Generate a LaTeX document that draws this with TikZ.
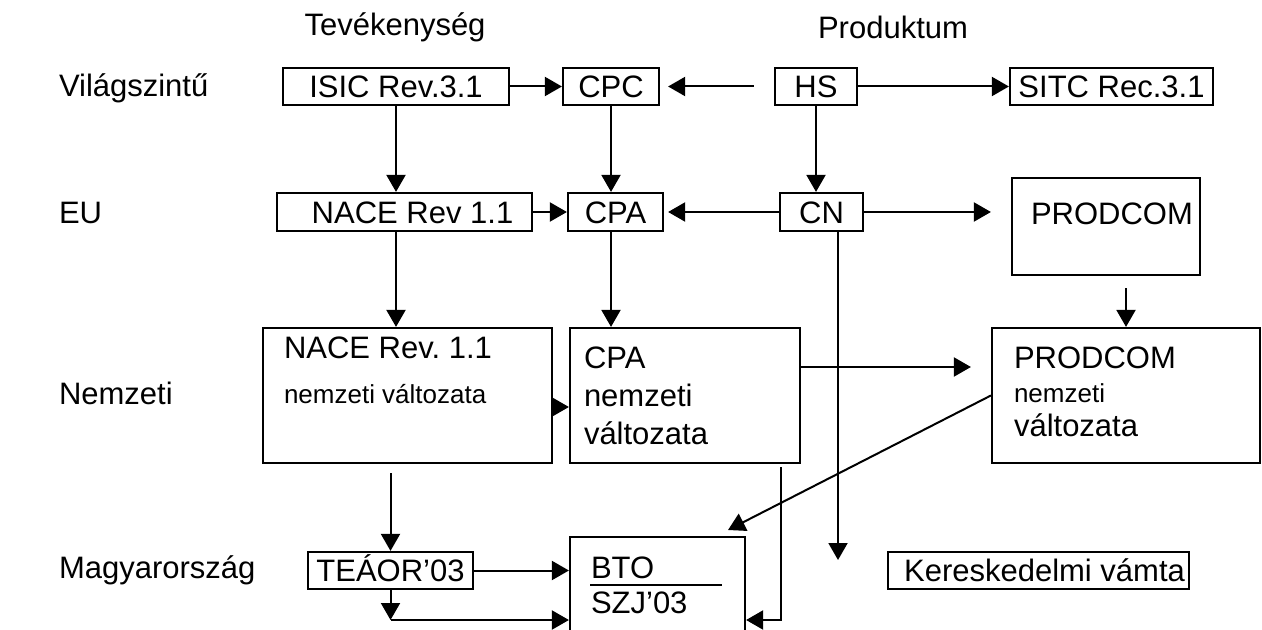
\documentclass[tikz,border=0pt]{standalone}
\usepackage{fontspec}
\setmainfont{Liberation Sans}
\usetikzlibrary{arrows.meta}
\frenchspacing

\begin{document}
\begin{tikzpicture}[x=0.5pt,y=-0.5pt,line width=1pt,
  every node/.style={font=\fontsize{15.5}{19}\selectfont},
  cbox/.style={draw,line width=1.1pt,inner sep=0pt,text height=11.2pt,text depth=0pt},
  txt/.style={inner sep=0pt,align=left,anchor=north west},
  arr/.style={-{Triangle[length=8.5pt,width=9.5pt]}}]
  \useasboundingbox (0,0) rectangle (1262,630);
  \clip (0,0) rectangle (1262,630);
  \fill[white] (0,0) rectangle (1262,630);

  % column and row titles
  \node (hakt) at (395,27) {Tevékenység};
  \node (hprod) at (893,27) {Produktum};
  \node[anchor=west,inner sep=0pt] (lvil) at (58,88) {Világszintű};
  \node[anchor=west,inner sep=0pt] (leu) at (58,213) {EU};
  \node[anchor=west,inner sep=0pt] (lnem) at (58,393) {Nemzeti};
  \node[anchor=west,inner sep=0pt] (lmagy) at (58,570) {Magyarország};

  % world level
  \node[cbox,minimum width=113pt,minimum height=18.5pt] (isic) at (396,86.5) {ISIC Rev.3.1};
  \node[cbox,minimum width=48pt,minimum height=18.5pt] (cpc) at (611,86.5) {CPC};
  \node[cbox,minimum width=41pt,minimum height=18.5pt] (hs) at (816,86.5) {HS};
  \node[cbox,minimum width=101.5pt,minimum height=18.5pt] (sitc) at (1111.5,86.5) {SITC Rec.3.1};

  % EU level
  \node[cbox,minimum width=127.5pt,minimum height=19pt] (nace) at (404.5,212) {\hspace{8pt}NACE Rev 1.1};
  \node[cbox,minimum width=47.5pt,minimum height=19pt] (cpa) at (615.5,212) {CPA};
  \node[cbox,minimum width=41.5pt,minimum height=19pt] (cn) at (821.5,212) {CN};
  \node[cbox,minimum width=94pt,minimum height=48.5pt] (prodcom) at (1106,226.5) {};
  \node[txt] (prodcomt) at (1030,202) {PRODCOM};

  % national level
  \node[cbox,minimum width=144.5pt,minimum height=67.5pt] (nacen) at (407.5,395.5) {};
  \node[cbox,minimum width=115pt,minimum height=67.5pt] (cpan) at (685,395.5) {};
  \node[cbox,minimum width=134pt,minimum height=67.5pt] (prodn) at (1126,395.5) {};
  \node[txt,font=\fontsize{15.5}{22.5}\selectfont] (nacent) at (283,336)
    {NACE Rev. 1.1\\{\fontsize{13}{15}\selectfont nemzeti változata}};
  \node[txt,font=\fontsize{15.5}{19}\selectfont] (cpant) at (583,346)
    {CPA\\nemzeti\\változata};
  \node[txt,font=\fontsize{15.5}{17}\selectfont] (prodnt) at (1013,346)
    {PRODCOM\\{\fontsize{13}{15}\selectfont nemzeti}\\változata};

  % Hungary
  \node[cbox,minimum width=82.5pt,minimum height=18.5pt] (teaor) at (390.5,570.5) {TEÁOR’03};
  \node[cbox,minimum width=87.5pt,minimum height=61.5pt] (bto) at (657.5,598.5) {};
  \node[anchor=base west,inner sep=0pt] (btot) at (590,578) {BTO};
  \node[anchor=base west,inner sep=0pt] (szjt) at (590,613) {SZJ’03};
  \draw (590,585) -- (722,585);
  \node[cbox,minimum width=150.5pt,minimum height=18.5pt] (keresk) at (1038.5,570.5) {\hspace{6pt}Kereskedelmi vámta};

  % connections
  \draw[arr] (isic) -- (cpc);
  \draw[arr,shorten <=10pt,shorten >=4pt] (hs) -- (cpc);
  \draw[arr] (hs) -- (sitc);
  \draw[arr] (isic.south) -- (isic.south |- nace.north);
  \draw[arr] (cpc.south) -- (cpc.south |- cpa.north);
  \draw[arr] (hs.south) -- (hs.south |- cn.north);

  \draw[arr] (nace) -- (cpa);
  \draw[arr,shorten >=2pt] (cn) -- (cpa);
  \draw[arr,shorten >=10pt] (cn.east) -- (cn.east -| prodcom.west);
  \coordinate (cnend) at (838,560);
  \draw[arr] (cn.south -| cnend) -- (cnend);

  \draw[arr] (isic.south |- nace.south) -- (isic.south |- nacen.north);
  \draw[arr] (cpc.south |- cpa.south) -- (cpc.south |- cpan.north);
  \draw[arr,shorten <=6pt] (prodn.north |- prodcom.south) -- (prodn.north);

  \draw[arr] ([yshift=-5.75pt]nacen.east) -- ([yshift=-5.75pt]cpan.west);
  \draw[arr,shorten >=10pt] ([yshift=14.25pt]cpan.east) -- ([yshift=14.25pt]prodn.west);

  \draw[arr,shorten <=4.5pt] (teaor.north |- nacen.south) -- (teaor.north);
  \draw[arr] (teaor) -- (teaor -| bto.west);
  \coordinate (tlow) at (390.5,620);
  \draw[arr] (teaor.south) -- (tlow);
  \draw[arr] (tlow) -- (tlow -| bto.west);
  \coordinate (cpaout) at (781,467);
  \draw[arr] (cpaout) |- (tlow -| bto.east);
  \coordinate (btoin) at (728,530);
  \draw[arr] (prodn.west) -- (btoin);
\end{tikzpicture}
\end{document}
